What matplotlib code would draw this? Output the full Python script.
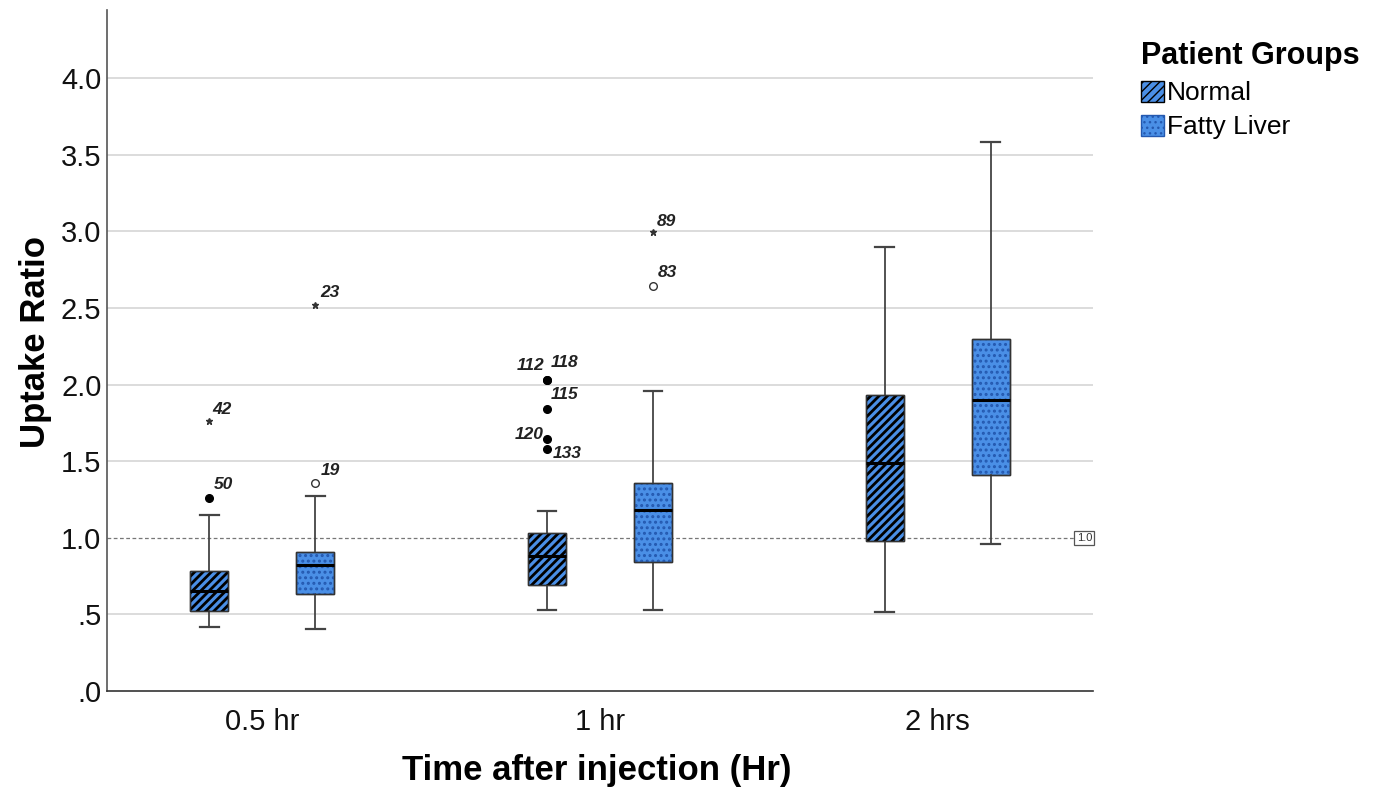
import matplotlib
matplotlib.use('Agg')
import matplotlib.pyplot as plt
import matplotlib.patches as mpatches
from matplotlib.ticker import FuncFormatter
import numpy as np

plt.rcParams['font.family'] = ['Liberation Sans', 'DejaVu Sans']

# categories and groups
times = ['0.5 hr', '1 hr', '2 hrs']
groups = ['Normal', 'Fatty Liver']

# box statistics (Normal)
normal_q1 = [0.52, 0.69, 0.98]
normal_med = [0.65, 0.88, 1.49]
normal_q3 = [0.78, 1.03, 1.93]
normal_lo = [0.42, 0.53, 0.515]
normal_hi = [1.15, 1.175, 2.90]

# box statistics (Fatty Liver)
fatty_q1 = [0.63, 0.84, 1.41]
fatty_med = [0.82, 1.18, 1.90]
fatty_q3 = [0.91, 1.36, 2.30]
fatty_lo = [0.405, 0.53, 0.96]
fatty_hi = [1.27, 1.96, 3.58]

# outliers (circles) and extremes (stars) with case labels
normal_out_time = [0, 1, 1, 1, 1, 1]
normal_out_val = [1.26, 2.03, 2.03, 1.84, 1.645, 1.58]
normal_out_lab = ['50', '112', '118', '115', '120', '133']
normal_ext_time = [0]
normal_ext_val = [1.76]
normal_ext_lab = ['42']

fatty_out_time = [0, 1]
fatty_out_val = [1.36, 2.64]
fatty_out_lab = ['19', '83']
fatty_ext_time = [0, 1]
fatty_ext_val = [2.52, 2.995]
fatty_ext_lab = ['23', '89']

ref_value = 1.0

# label placement (pixels from the marker, alignment)
label_offsets = {
    '42': (3, 12, 'left'), '50': (5, 13, 'left'), '23': (5, 12, 'left'),
    '19': (5, 12, 'left'), '89': (4, 11, 'left'), '83': (5, 14, 'left'),
    '112': (-3, 14, 'right'), '118': (4, 17, 'left'), '115': (4, 15, 'left'),
    '120': (-3, 4, 'right'), '133': (6, -5, 'left'),
}

blue = '#4a8fe6'
dot_blue = '#2459b0'
offset = 0.157
box_w = 0.113

fig = plt.figure(figsize=(13.86, 7.96), dpi=100)
ax = fig.add_axes([0.0772, 0.1319, 0.7114, 0.8555])


def make_stats(q1, med, q3, lo, hi):
    return [dict(q1=a, med=b, q3=c, whislo=d, whishi=e, fliers=[])
            for a, b, c, d, e in zip(q1, med, q3, lo, hi)]


x = np.arange(len(times))
sets = [
    (make_stats(normal_q1, normal_med, normal_q3, normal_lo, normal_hi), x - offset, '////', 'black', 2.0),
    (make_stats(fatty_q1, fatty_med, fatty_q3, fatty_lo, fatty_hi), x + offset, '...', dot_blue, 1.4),
]

for stats, pos, hatch, hcolor, hlw in sets:
    bp = ax.bxp(stats, positions=pos, widths=box_w, capwidths=0.055,
                patch_artist=True, showfliers=False,
                boxprops=dict(facecolor=blue, edgecolor='#333333', linewidth=1),
                whiskerprops=dict(color='#444444', linewidth=1.3),
                capprops=dict(color='#444444', linewidth=1.6),
                medianprops=dict(color='black', linewidth=2.2))
    for box in bp['boxes']:
        box.set_zorder(2)
        plt.rcParams['hatch.linewidth'] = hlw
        hp = mpatches.PathPatch(box.get_path(), facecolor='none', edgecolor=hcolor,
                                linewidth=0, hatch=hatch, zorder=2.1)
        ax.add_patch(hp)
        ol = mpatches.PathPatch(box.get_path(), facecolor='none', edgecolor='#333333',
                                linewidth=1, zorder=2.2)
        ax.add_patch(ol)
    for m in bp['medians']:
        m.set_zorder(3)

# fliers
ax.plot(np.array(normal_out_time) - offset, normal_out_val, 'o', color='black',
        markersize=5.5, linestyle='none', zorder=4)
ax.plot(np.array(normal_ext_time) - offset, normal_ext_val, '*', color='#333333',
        markersize=5, linestyle='none', zorder=4)
ax.plot(np.array(fatty_out_time) + offset, fatty_out_val, 'o', markerfacecolor='white',
        markeredgecolor='#333333', markersize=5.5, linestyle='none', zorder=4)
ax.plot(np.array(fatty_ext_time) + offset, fatty_ext_val, '*', color='#333333',
        markersize=5, linestyle='none', zorder=4)

for tlist, vlist, llist, sgn in [
        (normal_out_time, normal_out_val, normal_out_lab, -1),
        (normal_ext_time, normal_ext_val, normal_ext_lab, -1),
        (fatty_out_time, fatty_out_val, fatty_out_lab, 1),
        (fatty_ext_time, fatty_ext_val, fatty_ext_lab, 1)]:
    for t, v, lab in zip(tlist, vlist, llist):
        dx, dy, ha = label_offsets[lab]
        ax.annotate(lab, (t + sgn * offset, v), xytext=(dx, dy), textcoords='offset pixels',
                    ha=ha, va='center', fontsize=12.5, fontweight='bold', fontstyle='italic',
                    color='#222222', zorder=5)

# grid lines and reference line
yticks = np.arange(0, 4.01, 0.5)
ax.hlines([t for t in yticks[1:] if t != ref_value], -0.46, 2.46, color='#d9d9d9',
          linewidth=1.3, zorder=0)
ax.axhline(ref_value, color='#777777', linestyle=(0, (3, 2)), linewidth=0.9, zorder=1)
ax.text(0.999, ref_value, '1.0', transform=ax.get_yaxis_transform(), ha='right', va='center',
        fontsize=8, color='#333333',
        bbox=dict(boxstyle='square,pad=0.2', facecolor='white', edgecolor='#555555', linewidth=0.9))

ax.set_xlim(-0.46, 2.46)
ax.set_ylim(0, 4.444)
ax.set_yticks(yticks)
ax.yaxis.set_major_formatter(FuncFormatter(lambda v, p: f'{v:.1f}'.lstrip('0') if v < 1 else f'{v:.1f}'))
ax.set_xticks(x)
ax.set_xticklabels(times)
ax.tick_params(axis='both', length=0, labelsize=21, colors='#111111')
ax.tick_params(axis='x', pad=12)
ax.tick_params(axis='y', pad=4)

for s in ['top', 'right']:
    ax.spines[s].set_visible(False)
ax.spines['left'].set_color('#555555')
ax.spines['bottom'].set_color('#333333')
ax.spines['left'].set_linewidth(1.2)
ax.spines['bottom'].set_linewidth(1.2)

ax.set_xlabel('Time after injection (Hr)', fontsize=25, fontweight='bold')
ax.set_ylabel('Uptake Ratio', fontsize=25, fontweight='bold')
ax.xaxis.set_label_coords(0.497, -0.093)
ax.yaxis.set_label_coords(-0.056, 0.512)

# legend
plt.rcParams['hatch.linewidth'] = 2.0
h1 = mpatches.Patch(facecolor=blue, edgecolor='black', hatch='////', label=groups[0])
plt.rcParams['hatch.linewidth'] = 1.0
h2 = mpatches.Patch(facecolor=blue, edgecolor=dot_blue, hatch='...', label=groups[1])
leg = fig.legend(handles=[h1, h2], loc='upper left', bbox_to_anchor=(0.823, 0.948),
                 frameon=False, title='Patient Groups', fontsize=19,
                 title_fontproperties={'weight': 'bold', 'size': 22},
                 handlelength=0.9, handleheight=0.85, handletextpad=0.1,
                 labelspacing=0.35, borderpad=0, borderaxespad=0, alignment='left')

fig.savefig('out.png', dpi=100)
